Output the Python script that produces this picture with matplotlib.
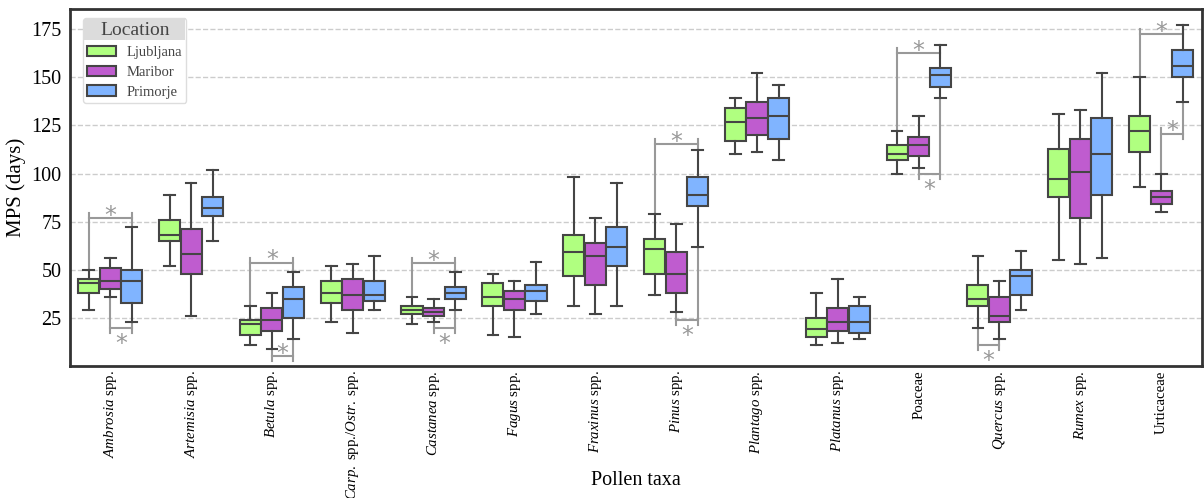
import numpy as np
import matplotlib
matplotlib.use("Agg")
import matplotlib.pyplot as plt
from matplotlib.patches import Patch, Rectangle

plt.rcParams['font.family'] = ['Liberation Serif', 'DejaVu Serif']
plt.rcParams['mathtext.fontset'] = 'custom'
plt.rcParams['mathtext.rm'] = 'Liberation Serif'
plt.rcParams['mathtext.it'] = 'Liberation Serif:italic'

# pollen taxa (x categories)
taxa = [r'$\it{Ambrosia}$ spp.', r'$\it{Artemisia}$ spp.', r'$\it{Betula}$ spp.',
        r'$\it{Carp.}$ spp./$\it{Ostr.}$ spp.', r'$\it{Castanea}$ spp.', r'$\it{Fagus}$ spp.',
        r'$\it{Fraxinus}$ spp.', r'$\it{Pinus}$ spp.', r'$\it{Plantago}$ spp.',
        r'$\it{Platanus}$ spp.', 'Poaceae', r'$\it{Quercus}$ spp.', r'$\it{Rumex}$ spp.',
        'Urticaceae']
locations = ['Ljubljana', 'Maribor', 'Primorje']
colors = ['#b0ff80', '#bf5ccf', '#80b4ff']

# box statistics per location, one value per taxon
lj_whislo = [29, 52, 11, 23, 22, 16, 31, 37, 110, 11, 100, 20, 55, 93]
lj_q1     = [38, 65, 16, 33, 27, 31, 47, 48, 117, 15, 107, 31, 88, 111]
lj_med    = [43, 68, 22, 38, 29, 36, 59, 61, 127, 19, 110, 35, 97, 122]
lj_q3     = [45, 76, 24, 44, 31, 43, 68, 66, 134, 25, 115, 42, 113, 130]
lj_whishi = [50, 89, 31, 52, 36, 48, 98, 79, 139, 38, 122, 57, 131, 150]

mb_whislo = [36, 26, 9, 17, 23, 15, 27, 28, 111, 12, 103, 14, 53, 80]
mb_q1     = [40, 48, 18, 29, 26, 29, 42, 38, 120, 18, 109, 23, 77, 84]
mb_med    = [44, 58, 24, 37, 28, 35, 57, 48, 129, 23, 115, 26, 101, 88]
mb_q3     = [51, 71, 30, 45, 30, 39, 64, 59, 137, 30, 119, 36, 118, 91]
mb_whishi = [56, 95, 38, 53, 35, 44, 77, 74, 152, 45, 130, 44, 133, 100]

pr_whislo = [23, 65, 14, 29, 29, 27, 31, 62, 107, 14, 139, 29, 56, 137]
pr_q1     = [33, 78, 25, 34, 35, 34, 52, 83, 118, 17, 145, 37, 89, 150]
pr_med    = [44, 82, 35, 37, 38, 39, 62, 89, 130, 23, 151, 47, 110, 156]
pr_q3     = [50, 88, 41, 44, 41, 42, 72, 98, 139, 31, 155, 50, 129, 164]
pr_whishi = [72, 102, 49, 57, 49, 54, 95, 112, 146, 36, 167, 60, 152, 177]

# significance brackets: taxon index, location a, location b, bracket level, star side (+1 above, -1 below)
sig_taxon = [0, 0, 2, 2, 4, 4, 7, 7, 10, 10, 11, 13, 13]
sig_a     = [0, 1, 0, 1, 0, 1, 0, 1, 0, 1, 0, 0, 1]
sig_b     = [2, 2, 2, 2, 2, 2, 2, 2, 2, 2, 1, 2, 2]
sig_level = [76.7, 20, 53.7, 5, 53.4, 20, 115.3, 24, 162.4, 100, 11, 172.4, 120.8]
sig_side  = [1, -1, 1, 1, 1, -1, 1, -1, 1, -1, -1, 1, 1]

stats_by_loc = [
    (lj_whislo, lj_q1, lj_med, lj_q3, lj_whishi),
    (mb_whislo, mb_q1, mb_med, mb_q3, mb_whishi),
    (pr_whislo, pr_q1, pr_med, pr_q3, pr_whishi),
]

fig = plt.figure(figsize=(12.04, 4.98), dpi=100)
ax = fig.add_axes([0.058, 0.265, 0.94, 0.717])

n = len(taxa)
group_w = 0.8
box_w = group_w / 3
offsets = [-box_w, 0, box_w]
edge = '#454545'

for k, (wlo, q1, med, q3, whi) in enumerate(stats_by_loc):
    stats = []
    for i in range(n):
        stats.append({'whislo': wlo[i], 'q1': q1[i], 'med': med[i], 'q3': q3[i],
                      'whishi': whi[i], 'fliers': []})
    ax.bxp(stats, positions=np.arange(n) + offsets[k], widths=box_w * 0.98,
           patch_artist=True, showfliers=False,
           boxprops=dict(facecolor=colors[k], edgecolor=edge, linewidth=1.5),
           medianprops=dict(color=edge, linewidth=1.5),
           whiskerprops=dict(color=edge, linewidth=1.5),
           capprops=dict(color=edge, linewidth=1.5),
           capwidths=box_w * 0.5, zorder=3)

# significance brackets
sig_color = '#999999'
over = 2.6
for t, a, b, lev, side in zip(sig_taxon, sig_a, sig_b, sig_level, sig_side):
    xa = t + offsets[a]
    xb = t + offsets[b]
    for loc, x in ((a, xa), (b, xb)):
        wlo = stats_by_loc[loc][0][t]
        whi = stats_by_loc[loc][4][t]
        start = whi if lev >= stats_by_loc[loc][2][t] else wlo
        end = lev + over * np.sign(lev - start)
        ax.plot([x, x], [start, end], color=sig_color, lw=1.5, zorder=2)
    ax.plot([xa, xb], [lev, lev], color=sig_color, lw=1.5, zorder=2)
    ystar = lev - 2.5 if side > 0 else lev - 12
    ax.text((xa + xb) / 2, ystar, '*', color=sig_color, fontsize=17,
            ha='center', va='baseline', family='DejaVu Sans', zorder=4)

ax.set_xlim(-0.5, n - 0.5)
ax.set_ylim(0, 185.5)
ax.set_yticks([25, 50, 75, 100, 125, 150, 175])
ax.set_xticks(np.arange(n))
ax.set_xticklabels(taxa, rotation=90, fontsize=10.7)
ax.tick_params(axis='y', labelsize=14.5, length=0, pad=6)
ax.tick_params(axis='x', length=0, pad=3)
ax.yaxis.grid(True, linestyle='--', color='#cccccc', linewidth=1, zorder=0)
ax.set_axisbelow(True)
for s in ax.spines.values():
    s.set_color('#333333')
    s.set_linewidth(2)
ax.set_ylabel('MPS (days)', fontsize=15)
fig.text(0.528, 0.036, 'Pollen taxa', fontsize=14.5, ha='center', va='center')

handles = [Patch(facecolor=c, edgecolor=edge, linewidth=1.5) for c in colors]
leg = ax.legend(handles, locations, title='Location', loc='upper left',
                bbox_to_anchor=(0.0115, 0.975), borderaxespad=0,
                fontsize=10.5, title_fontsize=14,
                frameon=True, framealpha=1, edgecolor='#dddddd', fancybox=True,
                handlelength=2.0, handleheight=0.7, handletextpad=0.7,
                labelspacing=0.45, borderpad=0.3)
for txt in leg.get_texts():
    txt.set_color('#444444')
leg.get_title().set_color('none')
leg.set_zorder(10)

# grey band behind legend title, title redrawn on top of it
fig.canvas.draw()
r = fig.canvas.get_renderer()
lb = leg.get_window_extent(r)
tb = leg.get_title().get_window_extent(r)
inv = fig.transFigure.inverted()
(x0, y0) = inv.transform((lb.x0 + 1, tb.y0 - 1))
(x1, y1) = inv.transform((lb.x1 - 1, lb.y1 - 1))
band = Rectangle((x0, y0), x1 - x0, y1 - y0, transform=fig.transFigure,
                 facecolor='#dcdcdc', edgecolor='none', zorder=11)
fig.patches.append(band)
cx, cy = inv.transform(((tb.x0 + tb.x1) / 2, (tb.y0 + tb.y1) / 2))
fig.text(cx, cy, 'Location', fontsize=14, color='#444444', ha='center', va='center', zorder=12)

fig.savefig('out.png', dpi=100)
